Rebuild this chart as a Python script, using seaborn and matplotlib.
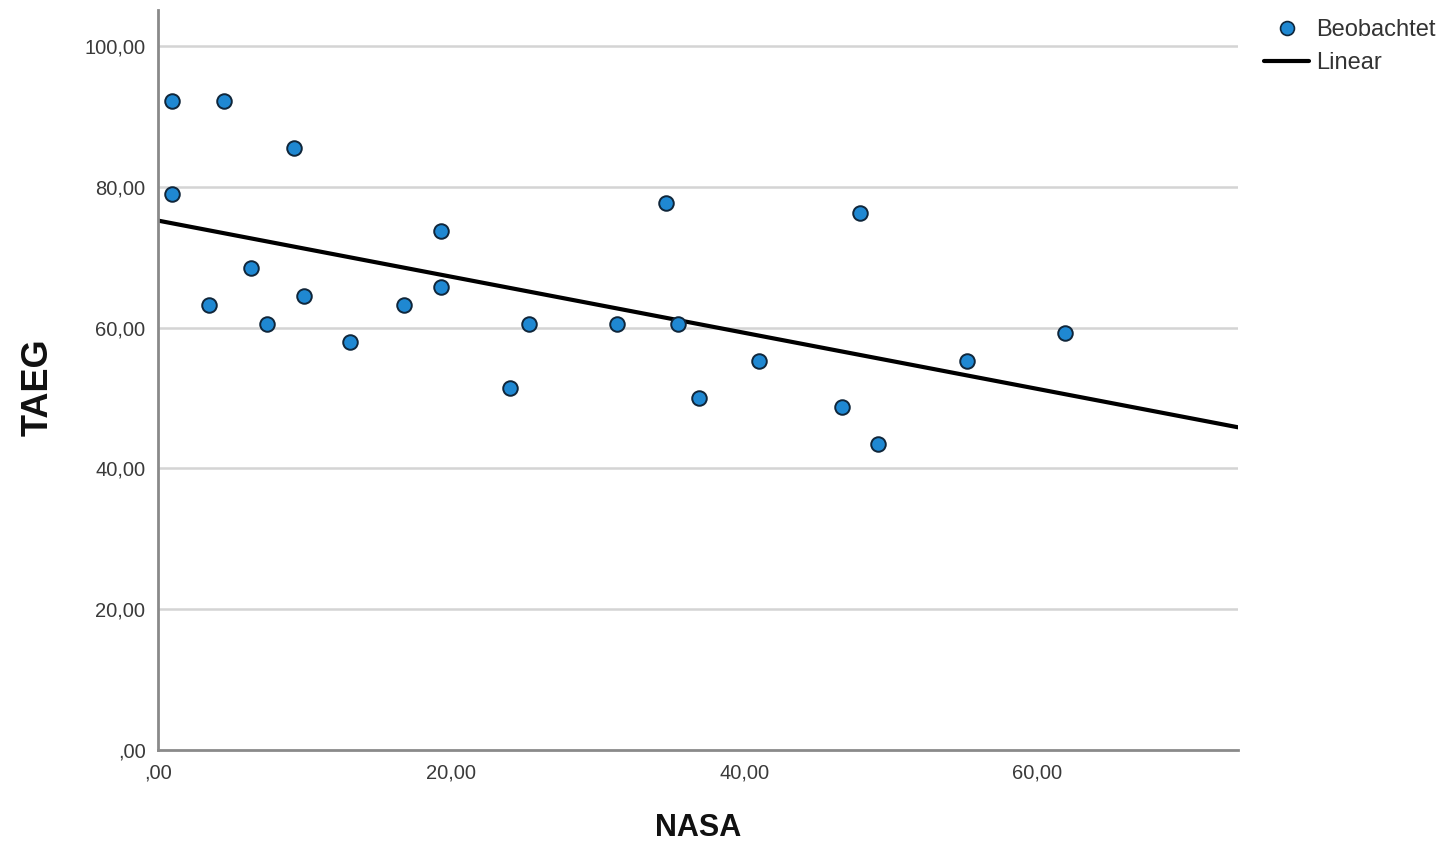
import matplotlib
matplotlib.use("Agg")
import matplotlib.pyplot as plt
import seaborn as sns
import numpy as np
import pandas as pd
from matplotlib.lines import Line2D
from matplotlib.ticker import FuncFormatter

nasa = [0.96, 4.5, 9.3, 0.96, 3.5, 6.35, 7.44, 9.97, 13.1, 16.8, 19.3, 19.3,
        24.0, 25.3, 31.3, 34.7, 35.5, 36.9, 41.0, 46.7, 47.9, 49.1, 55.2, 61.9]
taeg = [92.2, 92.2, 85.5, 79.0, 63.2, 68.5, 60.5, 64.5, 58.0, 63.2, 73.7, 65.8,
        51.4, 60.5, 60.5, 77.7, 60.5, 50.0, 55.3, 48.7, 76.3, 43.5, 55.3, 59.2]
x_ticks = [0, 20, 40, 60]
y_ticks = [0, 20, 40, 60, 80, 100]

df = pd.DataFrame({"NASA": nasa, "TAEG": taeg})

sns.set_style("white")
plt.rcParams['font.family'] = ['Liberation Sans', 'DejaVu Sans']

fig = plt.figure(figsize=(14.47, 8.42), dpi=100)
ax = fig.add_axes([158/1447, 92/842, (1238-158)/1447, (750-10)/842])

ax.set_xlim(0, 73.7)
ax.set_ylim(0, 105.1)

for yv in y_ticks[1:]:
    ax.axhline(yv, color="#d4d4d4", lw=1.8, zorder=0)

sns.regplot(data=df, x="NASA", y="TAEG", scatter=False, ci=None, truncate=False,
            color="black", line_kws={"lw": 3, "zorder": 2}, ax=ax)
sns.scatterplot(data=df, x="NASA", y="TAEG", s=110, color="#1f88d2",
                edgecolor="#10263a", linewidth=1.4, zorder=3, ax=ax, legend=False)

ax.set_xlim(0, 73.7)
ax.set_ylim(0, 105.1)
ax.set_xticks(x_ticks)
ax.set_yticks(y_ticks)
fmt = FuncFormatter(lambda v, p: (",00" if v == 0 else f"{int(v)},00"))
ax.xaxis.set_major_formatter(fmt)
ax.yaxis.set_major_formatter(fmt)
ax.tick_params(axis="both", length=0, labelsize=14.5, labelcolor="#3a3a3a")
ax.tick_params(axis="x", pad=10)
ax.tick_params(axis="y", pad=9)

for s in ["top", "right"]:
    ax.spines[s].set_visible(False)
for s in ["left", "bottom"]:
    ax.spines[s].set_color("#8a8a8a")
    ax.spines[s].set_linewidth(2)

ax.set_xlabel("NASA", fontsize=22, fontweight="bold", va="center", color="#111111")
ax.xaxis.set_label_coords(0.5, (750 - 828) / 740)
ax.set_ylabel("TAEG", fontsize=26, fontweight="bold", va="center", color="#111111")
ax.yaxis.set_label_coords((38 - 158) / 1080, (750 - 387) / 740)

handles = [
    Line2D([], [], marker="o", ls="none", markersize=10, markerfacecolor="#1f88d2",
           markeredgecolor="#10263a", markeredgewidth=1.2),
    Line2D([], [], color="black", lw=3),
]
fig.legend(handles, ["Beobachtet", "Linear"], loc="upper left",
           bbox_to_anchor=(1243/1447, 1 - (-2)/842), frameon=False, fontsize=17,
           handlelength=1.9, handletextpad=0.3, labelspacing=0.45,
           labelcolor="#333333")

fig.savefig("out.png", dpi=100)
